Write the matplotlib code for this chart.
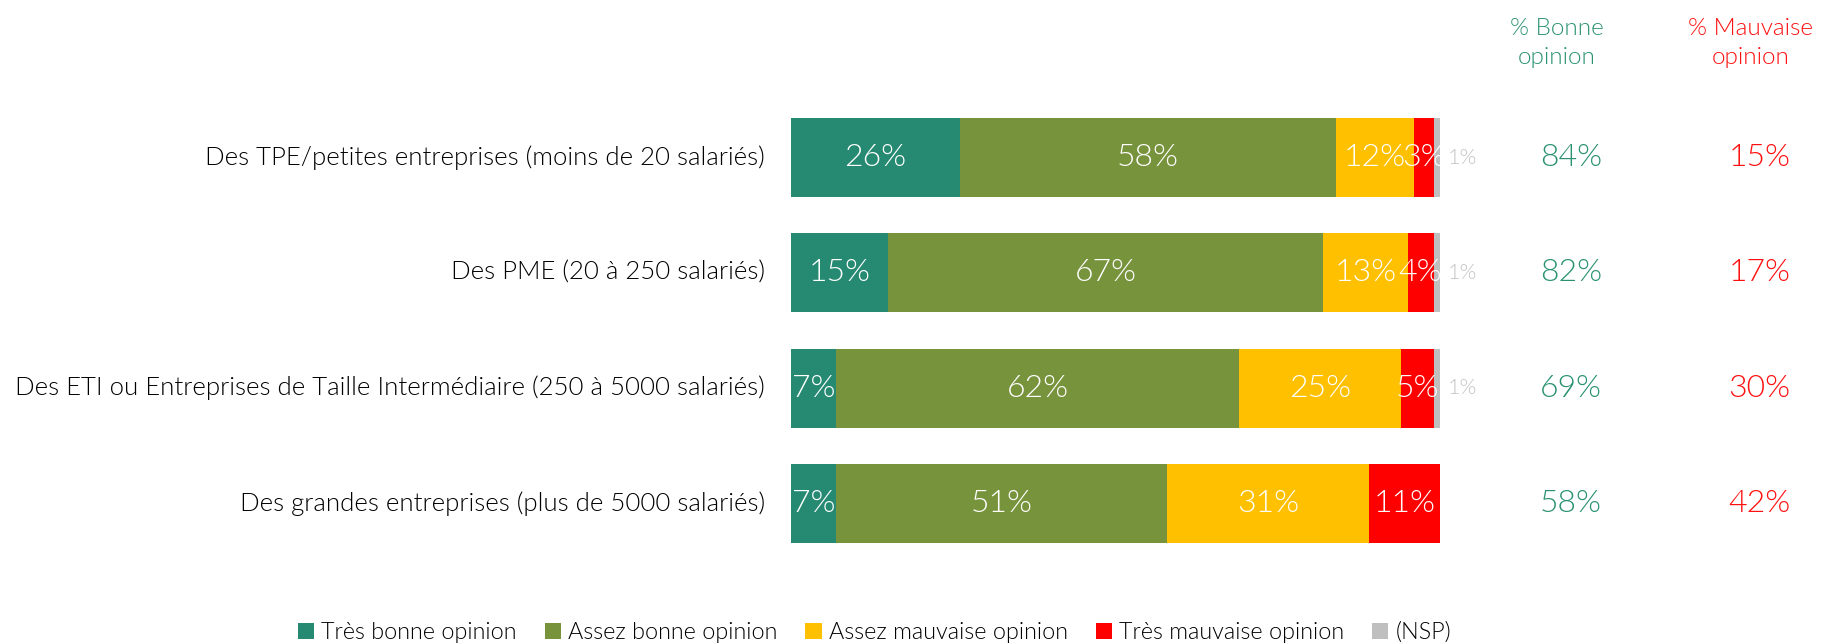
import matplotlib.pyplot as plt
from matplotlib.patches import Patch

categories = [
    "Des TPE/petites entreprises (moins de 20 salariés)",
    "Des PME (20 à 250 salariés)",
    "Des ETI ou Entreprises de Taille Intermédiaire (250 à 5000 salariés)",
    "Des grandes entreprises (plus de 5000 salariés)",
]
tres_bonne = [26, 15, 7, 7]
assez_bonne = [58, 67, 62, 51]
assez_mauvaise = [12, 13, 25, 31]
tres_mauvaise = [3, 4, 5, 11]
nsp = [1, 1, 1, 0]
pct_bonne = [84, 82, 69, 58]
pct_mauvaise = [15, 17, 30, 42]

series_names = ["Très bonne opinion", "Assez bonne opinion",
                "Assez mauvaise opinion", "Très mauvaise opinion", "(NSP)"]
colors = ["#268A72", "#77933C", "#FFC000", "#FF0000", "#BFBFBF"]
GREEN_TXT = "#2A9272"
RED_TXT = "#FF1010"
WEIGHT = 300

plt.rcParams["font.family"] = ["Lato", "DejaVu Sans"]

W, H = 1833, 644
fig = plt.figure(figsize=(W / 100, H / 100), dpi=100)

# bar area: 0 % at x=791 px, 100 % at x=1440 px
x0_px, px_per = 791, 6.49
ax = fig.add_axes([x0_px / W, 0, 1 - x0_px / W, 1])
ax.set_xlim(0, (W - x0_px) / px_per)
row_px = 115.33
ax.set_ylim(3 + (H - 503.5) / row_px, -157.5 / row_px)
ax.axis("off")

series = [tres_bonne, assez_bonne, assez_mauvaise, tres_mauvaise, nsp]
for i in range(len(categories)):
    left = 0
    for s, vals in enumerate(series):
        v = vals[i]
        if v == 0:
            continue
        ax.barh(i, v, left=left, height=0.685, color=colors[s], edgecolor="none")
        if s < 4:
            ax.text(left + v / 2, i, f"{v}%", ha="center", va="center",
                    color="white", fontsize=23, fontweight=WEIGHT)
        else:
            ax.text(left + v + 1.2, i, f"{v}%", ha="left", va="center",
                    color="#C4C4C4", fontsize=15.5, fontweight=WEIGHT)
        left += v
    ax.text(-4, i, categories[i], ha="right", va="center", fontsize=18.5,
            color="black", fontweight=WEIGHT)
    ax.text(120.2, i, f"{pct_bonne[i]}%", ha="center", va="center",
            fontsize=23, color=GREEN_TXT, fontweight=WEIGHT)
    ax.text(149.2, i, f"{pct_mauvaise[i]}%", ha="center", va="center",
            fontsize=23, color=RED_TXT, fontweight=WEIGHT)

ax.text(118.0, -0.99, "% Bonne\nopinion", ha="center", va="center",
        fontsize=17.5, color=GREEN_TXT, linespacing=1.45, fontweight=WEIGHT)
ax.text(147.8, -0.99, "% Mauvaise\nopinion", ha="center", va="center",
        fontsize=17.5, color=RED_TXT, linespacing=1.45, fontweight=WEIGHT)

handles = [Patch(facecolor=c, edgecolor="none") for c in colors]
leg = fig.legend(handles, series_names, loc="center", bbox_to_anchor=(0.477, 0.018),
                 ncol=5, frameon=False, handlelength=0.7, handleheight=0.7,
                 handletextpad=0.3, columnspacing=1.2, borderaxespad=0,
                 prop={"size": 16.8, "weight": WEIGHT})
for t in leg.get_texts():
    t.set_color("black")

fig.savefig("out.png", dpi=100, facecolor="white")
